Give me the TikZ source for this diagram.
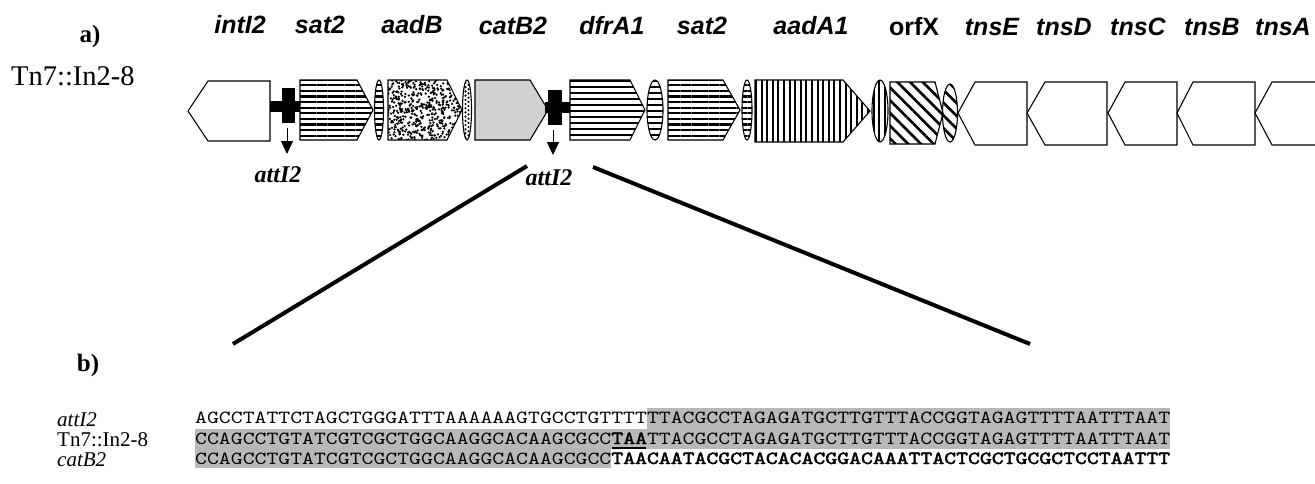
\documentclass[tikz,border=0pt]{standalone}
\usepackage{fontspec}
\setmainfont{Liberation Serif}
\setsansfont{Liberation Sans}
\newfontfamily\seqfont{lmmono10-regular.otf}[FakeStretch=1.2242]
\newfontfamily\seqboldfont{lmmono10-regular.otf}[FakeStretch=1.2242, FakeBold=2.2]
\usetikzlibrary{arrows.meta,patterns.meta}

\tikzset{
  gene/.style={font=\fontsize{25}{30}\selectfont\sffamily\bfseries\itshape, inner sep=0, anchor=base},
  geneup/.style={font=\fontsize{25}{30}\selectfont\sffamily\bfseries, inner sep=0, anchor=base},
  panel/.style={font=\fontsize{25}{28}\selectfont\bfseries, inner sep=0, anchor=base},
  site/.style={font=\fontsize{24}{28}\selectfont\bfseries\itshape, inner sep=0, anchor=base},
  rowlabel/.style={font=\fontsize{21}{22}\selectfont, inner sep=0, anchor=base west, text depth=0pt},
  seq/.style={font=\fontsize{18.5}{19}\selectfont\seqfont, inner sep=0, anchor=base west},
  cds/.style={draw=black, line width=1.1pt, line join=miter},
  hstripe/.style={pattern={Lines[angle=0,distance=5.6pt,line width=2.2pt]}},
  hthin/.style={pattern={Lines[angle=0,distance=6pt,line width=1.2pt]}},
  vstripe/.style={pattern={Lines[angle=90,distance=5.6pt,line width=2pt]}},
  dstripe/.style={pattern={Lines[angle=-45,distance=9pt,line width=2.6pt]}},
  shade/.style={fill=black!28},
  zoomline/.style={line width=4pt},
  sitearrow/.style={line width=1pt, -{Triangle[width=12pt,length=13pt]}},
}
\newcommand{\seqbold}[1]{{\seqboldfont #1}}

\begin{document}
\begin{tikzpicture}[x=1pt,y=-1pt]
\useasboundingbox (0,0) rectangle (1315,483);

% ---------- panel a) ----------
\node[panel] (pa) at (90,42) {a)};
\node[rowlabel, font=\fontsize{28.5}{30}\selectfont] (tnA) at (11,85) {Tn7::In2-8};

% gene names
\node[gene]   (gIntI) at (240,33) {intI2};
\node[gene]   (gSat)  at (320,33) {sat2};
\node[gene]   (gAadB) at (412,33) {aadB};
\node[gene]   (gCat)  at (513,34) {catB2};
\node[gene]   (gDfr)  at (612,34) {dfrA1};
\node[gene]   (gSatb) at (702,34) {sat2};
\node[gene]   (gAadA) at (811,34) {aadA1};
\node[geneup] (gOrf)  at (914,35) {orfX};
\node[gene]   (gE)    at (992,35) {tnsE};
\node[gene]   (gD)    at (1064,35) {tnsD};
\node[gene]   (gC)    at (1138,35) {tnsC};
\node[gene]   (gB)    at (1212,35) {tnsB};
\node[gene]   (gA)    at (1283,35) {tnsA};

% intI2 (leftward)
\draw[cds, fill=white] (188,111) -- (208,81) -- (270,81) -- (270,141) -- (208,141) -- cycle;

% first attI2 site
\fill (270,101) rectangle (300,112);
\fill (282,88) rectangle (295,123);
\coordinate (s1top) at (287,128);
\coordinate (s1bot) at (287,154);
\draw[sitearrow] (s1top) -- (s1bot);
\node[site] (att1) at (278,182) {attI2};

% sat2
\draw[cds, hstripe] (300,80) -- (357,80) -- (373,110) -- (357,140) -- (300,140) -- cycle;
\draw[cds, hstripe] (379,110) ellipse [x radius=4.5, y radius=30];

% aadB (stippled)
\begin{scope}
  \clip (388,80) -- (447,80) -- (462,110) -- (447,140) -- (388,140) -- cycle;
  \pgfmathsetseed{7}
  \foreach \i in {1,...,520} {
    \fill ({388+76*rnd},{80+60*rnd}) circle (1.25);
  }
\end{scope}
\draw[cds] (388,80) -- (447,80) -- (462,110) -- (447,140) -- (388,140) -- cycle;
\begin{scope}
  \clip (467,110) ellipse [x radius=4.5, y radius=30];
  \foreach \j in {0,...,13} {
    \fill (465.5,{83+4.2*\j}) circle (1.2);
    \fill (468.5,{85+4.2*\j}) circle (1.2);
  }
\end{scope}
\draw[cds] (467,110) ellipse [x radius=4.5, y radius=30];

% catB2 (fine grey)
\draw[cds, fill=black!18] (475,80) -- (530,80) -- (548,110) -- (530,140) -- (475,140) -- cycle;

% second attI2 site
\fill (545,102) rectangle (570,113);
\fill (548,90) rectangle (562,125);
\coordinate (s2top) at (553,130);
\coordinate (s2bot) at (553,155);
\draw[sitearrow] (s2top) -- (s2bot);
\node[site] (att2) at (549,185) {attI2};

% dfrA1
\draw[cds, hthin] (570,80) -- (630,80) -- (645,110) -- (630,140) -- (570,140) -- cycle;
\draw[cds, hthin] (655,110) ellipse [x radius=8, y radius=30];

% second sat2
\draw[cds, hstripe] (668,80) -- (723,80) -- (740,110) -- (723,140) -- (668,140) -- cycle;
\draw[cds, hstripe] (747,110) ellipse [x radius=5, y radius=30];

% aadA1
\draw[cds, vstripe] (755,80) -- (843,80) -- (870,111) -- (843,142) -- (755,142) -- cycle;
\draw[cds, vstripe] (880,111) ellipse [x radius=8, y radius=31];

% orfX
\draw[cds, dstripe] (890,82) -- (935,82) -- (943,113) -- (935,144) -- (890,144) -- cycle;
\draw[cds, dstripe] (950,113) ellipse [x radius=7.5, y radius=29];

% tns genes (leftward)
\draw[cds, fill=white] (958,113) -- (975,82) -- (1027,82) -- (1027,145) -- (975,145) -- cycle;
\draw[cds, fill=white] (1027,113) -- (1045,82) -- (1107,82) -- (1107,145) -- (1045,145) -- cycle;
\draw[cds, fill=white] (1108,113) -- (1125,82) -- (1177,82) -- (1177,145) -- (1125,145) -- cycle;
\draw[cds, fill=white] (1177,113) -- (1193,82) -- (1255,82) -- (1255,145) -- (1193,145) -- cycle;
\draw[cds] (1315,82) -- (1272,82) -- (1255,113) -- (1272,145) -- (1315,145);

% zoom lines towards panel b)
\coordinate (zl1) at (527,166);
\coordinate (zl2) at (233,344);
\coordinate (zr1) at (593,167);
\coordinate (zr2) at (1030,344);
\draw[zoomline] (zl1) -- (zl2);
\draw[zoomline] (zr1) -- (zr2);

% ---------- panel b) ----------
\node[panel] (pb) at (88,371) {b)};

\node[rowlabel, font=\fontsize{21}{22}\selectfont\itshape] (lAtt) at (57,426) {attI2};
\node[rowlabel] (lTn) at (57,446) {Tn7::In2-8};
\node[rowlabel, font=\fontsize{21}{22}\selectfont\itshape] (lCat) at (57,466) {catB2};

% shaded identity blocks (char pitch 11.89)
\fill[shade] (646.8,408) rectangle (1170,429);
\fill[shade] (195,429) rectangle (1170,449);
\fill[shade] (195,449) rectangle (611.2,468);

\node[seq] (r1) at (195,423) {AGCCTATTCTAGCTGGGATTTAAAAAAGTGCCTGTTTTTTACGCCTAGAGATGCTTGTTTACCGGTAGAGTTTTAATTTAAT};
\node[seq] (r2) at (195,444) {CCAGCCTGTATCGTCGCTGGCAAGGCACAAGCGCC\seqbold{TAA}TTACGCCTAGAGATGCTTGTTTACCGGTAGAGTTTTAATTTAAT};
\node[seq] (r3) at (195,464) {CCAGCCTGTATCGTCGCTGGCAAGGCACAAGCGCC\seqbold{TAACAATACGCTACACACGGACAAATTACTCGCTGCGCTCCTAATTT}};

% stop codon underline
\draw[line width=2pt] (612,447.5) -- (646,447.5);
\end{tikzpicture}
\end{document}
